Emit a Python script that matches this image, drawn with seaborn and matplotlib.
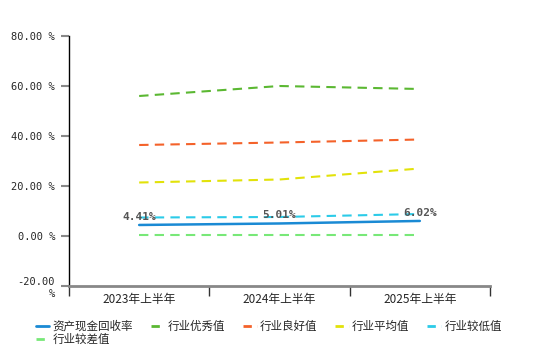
import matplotlib
matplotlib.use("Agg")
import matplotlib.pyplot as plt
from matplotlib.lines import Line2D
import seaborn as sns
import pandas as pd

periods = ["2023年上半年", "2024年上半年", "2025年上半年"]
cash_recovery = [4.41, 5.01, 6.02]
excellent = [56.0, 60.0, 58.8]
good = [36.4, 37.4, 38.6]
average = [21.4, 22.6, 27.0]
low = [7.4, 7.6, 8.8]
poor = [0.3, 0.3, 0.3]
y_ticks = [80, 60, 40, 20, 0, -20]

series = [
    ("资产现金回收率", cash_recovery, "#1a8ad4", "-"),
    ("行业优秀值", excellent, "#5bb832", "--"),
    ("行业良好值", good, "#f4622a", "--"),
    ("行业平均值", average, "#e2e20a", "--"),
    ("行业较低值", low, "#2ccbe8", "--"),
    ("行业较差值", poor, "#78e878", "--"),
]
dash_pattern = (4.5, 3)

sns.set_style("white")
plt.rcParams["font.family"] = ["Noto Sans CJK SC", "DejaVu Sans"]

fig = plt.figure(figsize=(5.6, 3.46), dpi=100)
ax = fig.add_axes([69 / 560, 1 - 286 / 346, (490 - 69) / 560, 250 / 346])

x_pos = [0.5, 1.5, 2.5]
for name, vals, color, ls in series:
    df = pd.DataFrame({"x": x_pos, "y": vals})
    lw = 1.8 if ls == "-" else 1.5
    sns.lineplot(data=df, x="x", y="y", ax=ax, color=color, linewidth=lw,
                 legend=False, zorder=3 if ls == "-" else 2)
    if ls == "--":
        ax.lines[-1].set_dashes(dash_pattern)

for x, v in zip(x_pos, cash_recovery):
    ax.text(x, v + 1.2, f"{v:.2f}%", ha="center", va="bottom",
            fontsize=8, color="#555555", family="DejaVu Sans Mono",
            fontweight="bold", zorder=4)

ax.set_xlim(0, 3)
ax.set_ylim(-20, 80)
ax.set_xticks([0, 1, 2, 3])
ax.set_xticklabels([])
ax.set_xticks(x_pos, minor=True)
ax.set_xticklabels(periods, minor=True, fontsize=8.5)
ax.tick_params(axis="x", which="minor", bottom=True, length=0, pad=5)
ax.tick_params(axis="x", which="major", bottom=True, length=7, width=1,
               color="#333333", direction="out")
ax.set_yticks(y_ticks)
ax.set_yticklabels([f"{t:.2f} %" if t != -20 else "-20.00\n%" for t in y_ticks],
                   fontsize=7.5, family="DejaVu Sans Mono")
ax.tick_params(axis="y", left=True, length=6, width=1.5, color="#888888",
               direction="out", pad=4)
ax.set_xlabel("")
ax.set_ylabel("")

for side in ["top", "right"]:
    ax.spines[side].set_visible(False)
ax.spines["left"].set_color("#000000")
ax.spines["left"].set_linewidth(1)
ax.spines["bottom"].set_color("#888888")
ax.spines["bottom"].set_linewidth(2)

# legend fills column-wise, so order entries to read row by row
order = [0, 5, 1, 2, 3, 4]
handles = []
for i in order:
    h = Line2D([0], [0], color=series[i][2], linewidth=2)
    if series[i][3] == "--":
        h.set_dashes((3, 2))
    handles.append(h)
labels = [series[i][0] for i in order]
fig.legend(handles, labels, loc="lower left", bbox_to_anchor=(0.045, -0.03),
           ncol=5, frameon=False, fontsize=8.3, handlelength=1.2,
           handletextpad=0.3, columnspacing=1.5, labelspacing=0.0)

fig.savefig("out.png", dpi=100)
